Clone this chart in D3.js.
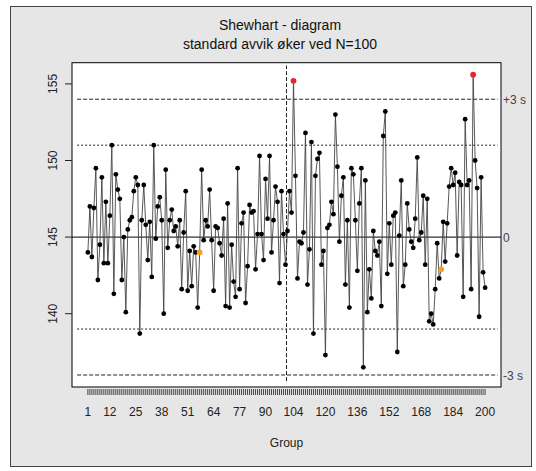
<!DOCTYPE html>
<html>
<head>
<meta charset="utf-8">
<script src="https://cdn.jsdelivr.net/npm/d3@7"></script>
<style>
  body { margin: 0; background: #fff; }
  text { font-family: "Liberation Sans", Arial, sans-serif; }
</style>
</head>
<body>
<div id="chart"></div>
<script>
const values = [
  144.0, 147.0, 143.7, 146.9, 149.5, 142.2, 144.5, 148.9, 143.3, 147.3,
  143.3, 146.4, 151.0, 141.3, 149.1, 148.1, 147.5, 142.2, 145.0, 140.1,
  145.5, 146.1, 146.3, 148.0, 148.9, 148.4, 138.7, 146.1, 148.4, 145.8,
  143.5, 146.0, 142.4, 151.0, 144.9, 147.0, 147.6, 146.1, 140.0, 149.4,
  144.3, 146.1, 146.8, 145.4, 145.7, 144.4, 146.1, 141.6, 145.3, 148.0,
  141.5, 144.1, 141.8, 144.4, 144.0, 140.4, 144.0, 149.4, 144.8, 146.1,
  145.7, 148.1, 144.8, 141.5, 145.7, 145.6, 144.6, 143.8, 146.2, 140.5,
  147.2, 140.4, 144.5, 142.1, 141.1, 149.5, 141.6, 145.9, 146.6, 140.7,
  143.1, 147.1, 146.6, 146.7, 142.9, 145.2, 150.3, 145.2, 143.5, 148.8,
  146.2, 150.3, 144.0, 146.1, 148.3, 147.3, 142.0, 148.0, 145.2, 143.2,
  145.4, 148.0, 146.6, 155.2, 149.0, 142.3, 144.7, 144.6, 145.3, 151.8,
  141.9, 144.2, 151.2, 138.7, 149.0, 150.1, 150.5, 143.2, 144.1, 137.3,
  145.6, 145.8, 147.3, 146.5, 153.0, 149.6, 144.7, 147.7, 148.9, 141.9,
  146.1, 140.4, 149.5, 149.1, 146.1, 142.8, 147.2, 149.5, 136.5, 148.7,
  140.1, 142.9, 141.0, 145.4, 144.1, 143.8, 144.7, 140.5, 151.6, 153.2,
  142.6, 145.9, 143.2, 146.4, 146.6, 137.5, 145.1, 148.7, 141.8, 143.2,
  147.2, 145.5, 144.7, 144.3, 146.2, 150.2, 144.8, 145.3, 147.7, 143.2,
  147.5, 139.5, 140.0, 139.3, 141.6, 144.6, 142.3, 142.9, 146.0, 143.4,
  145.9, 148.3, 149.5, 148.4, 149.2, 143.8, 148.6, 148.4, 141.1, 152.7,
  148.4, 148.7, 141.6, 155.6, 150.0, 148.2, 139.8, 148.9, 142.7, 141.7
];

// flagged points
const outOfControl = [104, 194];   // red
const warning = [57, 178];         // orange

// reference lines
const centre = 145;
const dottedLimits = [151, 139];   // +-3 s, first part
const dashedLimits = [154, 136];   // +-3 s, after N=100
const changeAt = 100.5;
const limitSpan = [-4.4, 206.3];   // x range of the limit segments
const changeSpan = [135.6, 156.2]; // y range of the change line

const xTickLabels = [1, 12, 25, 38, 51, 64, 77, 90, 104, 120, 136, 152, 168, 184, 200];
const yTicks = [140, 145, 150, 155];
const rightLabels = [
  { v: 154, t: "+3 s" },
  { v: 145, t: "0" },
  { v: 136, t: "-3 s" }
];

const width = 536;
const height = 471;
const plot = { left: 72, right: 501, top: 62.7, bottom: 387 };

const data = values.map((v, i) => ({ group: i + 1, value: v }));

const svg = d3.select("#chart")
    .append("svg")
    .attr("width", width)
    .attr("height", height);

// grey figure panel
svg.append("rect")
    .attr("x", 10.5).attr("y", 6.5)
    .attr("width", 521).attr("height", 460)
    .attr("fill", "#e6e6e6")
    .attr("stroke", "#444");

// R style axis ranges (4% padding)
const n = values.length;
const xPad = (n - 1) * 0.04;
const yLo = d3.min([...values, ...dashedLimits]);
const yHi = d3.max([...values, ...dashedLimits]);
const yPad = (yHi - yLo) * 0.04;

const x = d3.scaleLinear().domain([1 - xPad, n + xPad]).range([plot.left, plot.right]);
const y = d3.scaleLinear().domain([yLo - yPad, yHi + yPad]).range([plot.bottom, plot.top]);

// plot region
svg.append("rect")
    .attr("x", plot.left).attr("y", plot.top)
    .attr("width", plot.right - plot.left).attr("height", plot.bottom - plot.top)
    .attr("fill", "#fff");

const g = svg.append("g");

// limit lines
g.selectAll("line.dotted")
    .data(dottedLimits)
    .enter().append("line")
    .attr("x1", x(limitSpan[0])).attr("x2", x(limitSpan[1]))
    .attr("y1", d => y(d)).attr("y2", d => y(d))
    .attr("stroke", "#222")
    .attr("stroke-dasharray", "2,2");

g.selectAll("line.dashed")
    .data(dashedLimits)
    .enter().append("line")
    .attr("x1", x(limitSpan[0])).attr("x2", x(limitSpan[1]))
    .attr("y1", d => y(d)).attr("y2", d => y(d))
    .attr("stroke", "#222")
    .attr("stroke-dasharray", "4,2");

g.append("line")
    .attr("x1", plot.left).attr("x2", plot.right)
    .attr("y1", y(centre)).attr("y2", y(centre))
    .attr("stroke", "#000");

g.append("line")
    .attr("x1", x(changeAt)).attr("x2", x(changeAt))
    .attr("y1", y(changeSpan[0])).attr("y2", y(changeSpan[1]))
    .attr("stroke", "#222")
    .attr("stroke-dasharray", "4,2");

// series
const line = d3.line().x(d => x(d.group)).y(d => y(d.value));
g.append("path")
    .datum(data)
    .attr("d", line)
    .attr("fill", "none")
    .attr("stroke", "#444")
    .attr("stroke-width", 0.9);

function pointColor(d) {
    if (outOfControl.includes(d.group)) return "#e8262d";
    if (warning.includes(d.group)) return "#f4a020";
    return "#000";
}

g.selectAll("circle")
    .data(data)
    .enter().append("circle")
    .attr("cx", d => x(d.group))
    .attr("cy", d => y(d.value))
    .attr("r", d => pointColor(d) == "#000" ? 2.4 : 2.9)
    .attr("fill", d => pointColor(d));

// frame
svg.append("rect")
    .attr("x", plot.left).attr("y", plot.top)
    .attr("width", plot.right - plot.left).attr("height", plot.bottom - plot.top)
    .attr("fill", "none")
    .attr("stroke", "#000");

// x axis: a tick for every group
svg.append("g")
    .selectAll("line")
    .data(d3.range(1, n + 1))
    .enter().append("line")
    .attr("x1", d => x(d)).attr("x2", d => x(d))
    .attr("y1", plot.bottom + 2).attr("y2", plot.bottom + 8)
    .attr("stroke", "#333")
    .attr("stroke-width", 0.9);

svg.append("g")
    .selectAll("text")
    .data(xTickLabels)
    .enter().append("text")
    .attr("x", d => x(d))
    .attr("y", 416)
    .attr("text-anchor", "middle")
    .attr("font-size", 12)
    .attr("fill", "#222")
    .text(d => d);

svg.append("text")
    .attr("x", (plot.left + plot.right) / 2)
    .attr("y", 447)
    .attr("text-anchor", "middle")
    .attr("font-size", 12)
    .attr("fill", "#222")
    .text("Group");

// y axis
svg.append("g")
    .selectAll("line")
    .data(yTicks)
    .enter().append("line")
    .attr("x1", plot.left - 7).attr("x2", plot.left)
    .attr("y1", d => y(d)).attr("y2", d => y(d))
    .attr("stroke", "#222");

svg.append("g")
    .selectAll("text")
    .data(yTicks)
    .enter().append("text")
    .attr("transform", d => `translate(57,${y(d)}) rotate(-90)`)
    .attr("text-anchor", "middle")
    .attr("font-size", 12)
    .attr("fill", "#222")
    .text(d => d);

// right side labels
svg.append("g")
    .selectAll("text")
    .data(rightLabels)
    .enter().append("text")
    .attr("x", plot.right + 2)
    .attr("y", d => y(d.v) + 5)
    .attr("font-size", 12)
    .attr("fill", "#444")
    .text(d => d.t);

// title
const titleX = 280;
svg.append("text")
    .attr("x", titleX)
    .attr("y", 30)
    .attr("text-anchor", "middle")
    .attr("font-size", 14)
    .attr("fill", "#111")
    .text("Shewhart - diagram");

svg.append("text")
    .attr("x", titleX)
    .attr("y", 49)
    .attr("text-anchor", "middle")
    .attr("font-size", 14)
    .attr("fill", "#111")
    .text("standard avvik øker ved N=100");
</script>
</body>
</html>
